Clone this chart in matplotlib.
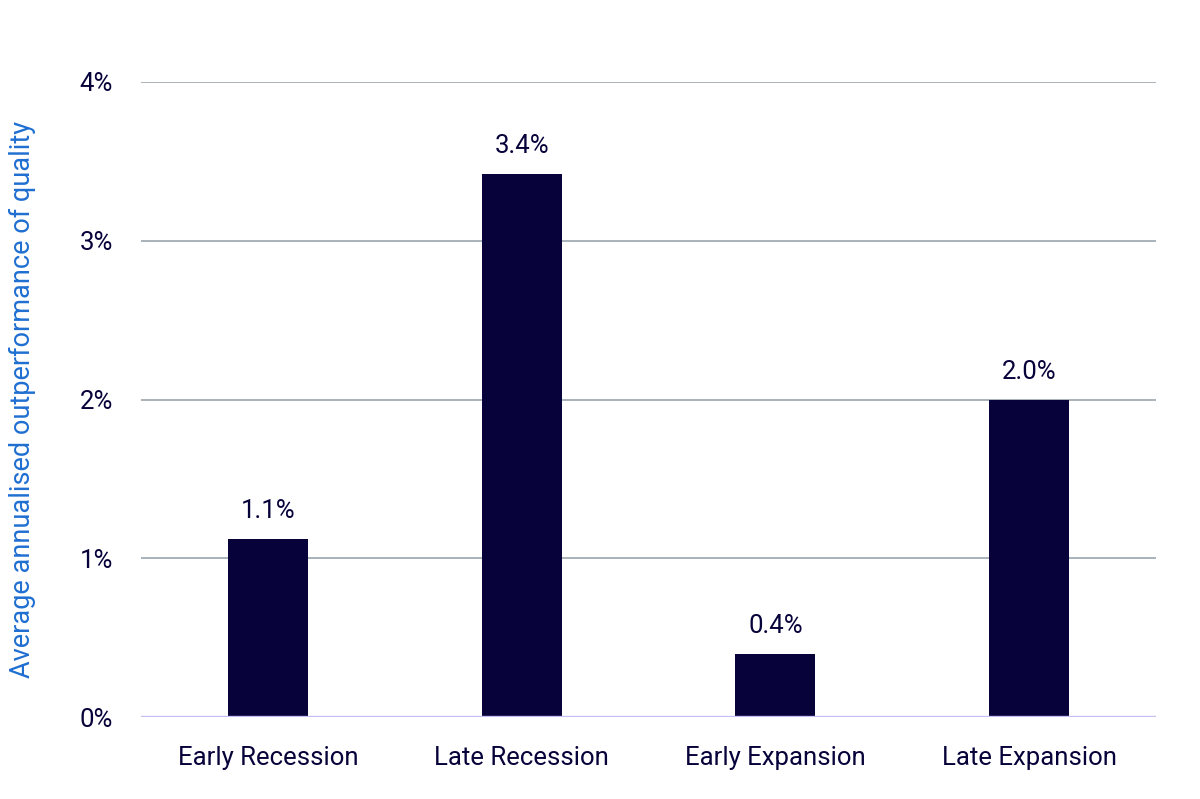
import numpy as np
import matplotlib
matplotlib.use("Agg")
import matplotlib.pyplot as plt

# data
categories = ["Early Recession", "Late Recession", "Early Expansion", "Late Expansion"]
values = [1.12, 3.42, 0.40, 2.00]
labels = ["1.1%", "3.4%", "0.4%", "2.0%"]
yticks = [0, 1, 2, 3, 4]

navy = "#07033a"
plt.rcParams["font.family"] = ["Roboto", "DejaVu Sans"]

fig = plt.figure(figsize=(12, 7.99), dpi=100)
ax = fig.add_axes([0.1175, 0.1026, 0.8458, 0.7948])

x = np.arange(len(categories))
ax.bar(x, values, width=0.315, color=navy, zorder=3)
for xi, v, lab in zip(x, values, labels):
    ax.text(xi, v + 0.1, lab, ha="center", va="bottom", fontsize=18.5, color=navy)

ax.set_xlim(-0.5, 3.5)
ax.set_ylim(0, 4)
ax.set_yticks(yticks)
ax.set_yticklabels([f"{t}%" for t in yticks])
ax.set_xticks(x)
ax.set_xticklabels(categories)
ax.tick_params(axis="both", length=0, labelsize=18.5, labelcolor=navy)
ax.tick_params(axis="y", pad=20)
ax.tick_params(axis="x", pad=21)

ax.grid(axis="y", color="#a9b2ba", linewidth=1.4, zorder=0)
ax.axhline(0, color="#c4bff5", linewidth=2.4, zorder=4)
for s in ax.spines.values():
    s.set_visible(False)

ax.set_ylabel("Average annualised outperformance of quality", fontsize=19.5,
              color="#1f6fd1")
ax.yaxis.set_label_coords(-0.103, 0.5)

fig.savefig("out.png", dpi=100)
